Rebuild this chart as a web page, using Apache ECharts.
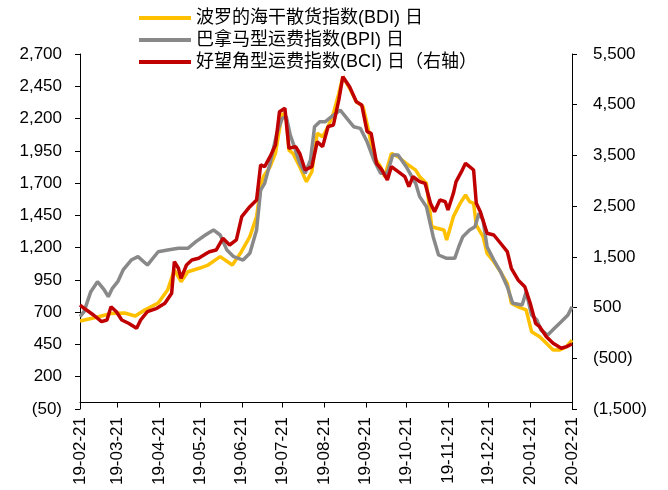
<!DOCTYPE html>
<html>
<head>
<meta charset="utf-8">
<script src="https://cdn.jsdelivr.net/npm/echarts@6/dist/echarts.min.js"></script>
<style>
  html, body { margin: 0; padding: 0; background: #fff; }
  #chart { width: 668px; height: 490px; }
</style>
</head>
<body>
<div id="chart"></div>
<script>
document.addEventListener('DOMContentLoaded', function() {

    const legendNames = ['波罗的海干散货指数(BDI) 日', '巴拿马型运费指数(BPI) 日', '好望角型运费指数(BCI) 日（右轴）'];

    // BDI, left axis
    const bdi = [
        ['2019-02-21', 632], ['2019-03-06', 663], ['2019-03-16', 690], ['2019-03-26', 694], ['2019-04-03', 670],
        ['2019-04-10', 717], ['2019-04-20', 771], ['2019-04-27', 872], ['2019-05-02', 1027], ['2019-05-07', 936],
        ['2019-05-12', 1013], ['2019-05-21', 1042], ['2019-05-27', 1065], ['2019-06-05', 1130], ['2019-06-14', 1065],
        ['2019-06-20', 1156], ['2019-06-27', 1285], ['2019-07-02', 1440], ['2019-07-05', 1672], ['2019-07-07', 1750],
        ['2019-07-12', 1827], ['2019-07-16', 1930], ['2019-07-18', 2059], ['2019-07-21', 2240], ['2019-07-24', 2204],
        ['2019-07-26', 1956], ['2019-07-29', 1930], ['2019-08-03', 1827], ['2019-08-08', 1711], ['2019-08-12', 1788],
        ['2019-08-16', 2086], ['2019-08-20', 2059], ['2019-08-24', 2137], ['2019-08-28', 2240], ['2019-09-01', 2395],
        ['2019-09-04', 2524], ['2019-09-09', 2434], ['2019-09-14', 2330], ['2019-09-19', 2292], ['2019-09-23', 2111],
        ['2019-09-27', 1904], ['2019-10-02', 1827], ['2019-10-05', 1750], ['2019-10-10', 1930], ['2019-10-15', 1904],
        ['2019-10-21', 1853], ['2019-10-28', 1801], ['2019-10-31', 1750], ['2019-11-05', 1698], ['2019-11-09', 1362],
        ['2019-11-13', 1350], ['2019-11-18', 1337], ['2019-11-20', 1259], ['2019-11-25', 1440], ['2019-11-30', 1543],
        ['2019-12-04', 1608], ['2019-12-07', 1556], ['2019-12-10', 1543], ['2019-12-12', 1375], ['2019-12-17', 1285],
        ['2019-12-20', 1156], ['2019-12-25', 1091], ['2019-12-30', 1013], ['2020-01-04', 924], ['2020-01-07', 769],
        ['2020-01-12', 742], ['2020-01-18', 717], ['2020-01-22', 549], ['2020-01-28', 510], ['2020-02-02', 459],
        ['2020-02-07', 407], ['2020-02-12', 407], ['2020-02-17', 433], ['2020-02-21', 484]
    ];

    // BPI, left axis
    const bpi = [
        ['2019-02-21', 665], ['2019-02-24', 704], ['2019-03-01', 859], ['2019-03-06', 936], ['2019-03-11', 872],
        ['2019-03-14', 820], ['2019-03-17', 885], ['2019-03-21', 936], ['2019-03-25', 1027], ['2019-03-31', 1104],
        ['2019-04-05', 1130], ['2019-04-12', 1065], ['2019-04-20', 1168], ['2019-04-27', 1181], ['2019-05-05', 1195],
        ['2019-05-12', 1195], ['2019-05-18', 1246], ['2019-05-25', 1298], ['2019-05-31', 1337], ['2019-06-05', 1298],
        ['2019-06-10', 1181], ['2019-06-15', 1130], ['2019-06-22', 1104], ['2019-06-27', 1156], ['2019-07-02', 1337],
        ['2019-07-05', 1646], ['2019-07-08', 1698], ['2019-07-12', 1853], ['2019-07-17', 2086], ['2019-07-21', 2201],
        ['2019-07-24', 2214], ['2019-07-27', 2072], ['2019-07-30', 1982], ['2019-08-03', 1853], ['2019-08-07', 1776],
        ['2019-08-11', 1879], ['2019-08-14', 2137], ['2019-08-18', 2176], ['2019-08-22', 2176], ['2019-08-25', 2201],
        ['2019-09-02', 2266], ['2019-09-07', 2201], ['2019-09-12', 2137], ['2019-09-17', 2124], ['2019-09-22', 2020],
        ['2019-09-27', 1879], ['2019-10-02', 1776], ['2019-10-07', 1776], ['2019-10-11', 1918], ['2019-10-15', 1918],
        ['2019-10-21', 1827], ['2019-10-28', 1698], ['2019-10-31', 1595], ['2019-11-05', 1517], ['2019-11-10', 1285],
        ['2019-11-14', 1143], ['2019-11-20', 1117], ['2019-11-26', 1117], ['2019-11-29', 1207], ['2019-12-02', 1285],
        ['2019-12-07', 1337], ['2019-12-11', 1362], ['2019-12-14', 1466], ['2019-12-17', 1414], ['2019-12-20', 1207],
        ['2019-12-25', 1104], ['2019-12-30', 1013], ['2020-01-04', 897], ['2020-01-08', 769], ['2020-01-15', 756],
        ['2020-01-18', 859], ['2020-01-22', 678], ['2020-01-26', 639], ['2020-01-29', 562], ['2020-02-03', 523],
        ['2020-02-08', 575], ['2020-02-13', 626], ['2020-02-18', 678], ['2020-02-21', 742]
    ];

    // BCI, right axis
    const bci = [
        ['2019-02-21', 551], ['2019-02-24', 486], ['2019-03-03', 354], ['2019-03-09', 222], ['2019-03-13', 255],
        ['2019-03-16', 517], ['2019-03-20', 419], ['2019-03-24', 255], ['2019-03-29', 190], ['2019-04-04', 91],
        ['2019-04-07', 255], ['2019-04-12', 419], ['2019-04-19', 486], ['2019-04-25', 584], ['2019-04-30', 782],
        ['2019-05-02', 1405], ['2019-05-05', 1275], ['2019-05-07', 1077], ['2019-05-11', 1340], ['2019-05-15', 1438],
        ['2019-05-20', 1472], ['2019-05-26', 1570], ['2019-05-28', 1602], ['2019-06-02', 1635], ['2019-06-07', 1866],
        ['2019-06-12', 1734], ['2019-06-17', 1833], ['2019-06-21', 2292], ['2019-06-27', 2489], ['2019-07-02', 2621],
        ['2019-07-05', 3312], ['2019-07-08', 3278], ['2019-07-12', 3475], ['2019-07-16', 3706], ['2019-07-19', 4363],
        ['2019-07-23', 4430], ['2019-07-26', 3641], ['2019-07-31', 3673], ['2019-08-03', 3542], ['2019-08-07', 3213],
        ['2019-08-12', 3278], ['2019-08-16', 3771], ['2019-08-20', 3673], ['2019-08-24', 4067], ['2019-08-28', 4100],
        ['2019-09-01', 4593], ['2019-09-04', 5053], ['2019-09-09', 4856], ['2019-09-14', 4560], ['2019-09-18', 4495],
        ['2019-09-22', 3968], ['2019-09-25', 3937], ['2019-09-29', 3345], ['2019-10-03', 3213], ['2019-10-07', 3016],
        ['2019-10-10', 3278], ['2019-10-15', 3180], ['2019-10-20', 3081], ['2019-10-23', 2884], ['2019-10-26', 3081],
        ['2019-10-31', 2982], ['2019-11-04', 2950], ['2019-11-08', 2556], ['2019-11-11', 2391], ['2019-11-15', 2621],
        ['2019-11-19', 2588], ['2019-11-21', 2424], ['2019-11-25', 2753], ['2019-11-27', 2982], ['2019-12-01', 3180],
        ['2019-12-04', 3345], ['2019-12-07', 3278], ['2019-12-10', 3213], ['2019-12-12', 2556], ['2019-12-15', 2391],
        ['2019-12-20', 1965], ['2019-12-25', 1931], ['2019-12-30', 1768], ['2020-01-04', 1602], ['2020-01-07', 1275],
        ['2020-01-12', 1044], ['2020-01-17', 912], ['2020-01-21', 584], ['2020-01-25', 190], ['2020-01-28', 123],
        ['2020-02-02', -74], ['2020-02-07', -204], ['2020-02-13', -303], ['2020-02-17', -271], ['2020-02-21', -218]
    ];

    // month ticks, 21st of each month
    const monthTicks = ['2019-02-21', '2019-03-21', '2019-04-21', '2019-05-21', '2019-06-21', '2019-07-21',
        '2019-08-21', '2019-09-21', '2019-10-21', '2019-11-21', '2019-12-21', '2020-01-21', '2020-02-21'];

    const toTime = s => {
        const p = s.split('-').map(Number);
        return Date.UTC(p[0], p[1] - 1, p[2]);
    };
    const tickTimes = monthTicks.map(toTime);
    const toPoints = rows => rows.map(r => [toTime(r[0]), r[1]]);

    const fmtNum = v => {
        const s = Math.abs(v).toLocaleString('en-US');
        return v < 0 ? '(' + s + ')' : s;
    };

    const pad = n => (n < 10 ? '0' : '') + n;
    const fmtDate = v => {
        const d = new Date(v);
        return pad(d.getUTCFullYear() % 100) + '-' + pad(d.getUTCMonth() + 1) + '-' + pad(d.getUTCDate());
    };

    const font = '"Liberation Sans", Arial, "Noto Sans CJK SC", sans-serif';

    const valueAxis = (min, max, interval, position, margin) => ({
        type: 'value',
        position: position,
        min: min,
        max: max,
        interval: interval,
        splitLine: { show: false },
        axisLine: { show: true, lineStyle: { color: '#000', width: 1 } },
        axisTick: { show: true, length: 5, lineStyle: { color: '#000' } },
        axisLabel: {
            color: '#000',
            fontSize: 17,
            fontFamily: font,
            margin: margin,
            formatter: fmtNum
        }
    });

    const line = (name, data, color, yIndex) => ({
        name: name,
        type: 'line',
        yAxisIndex: yIndex,
        data: toPoints(data),
        showSymbol: false,
        symbol: 'none',
        lineStyle: { color: color, width: 3.5 },
        itemStyle: { color: color },
        emphasis: { disabled: true }
    });

    const chart = echarts.init(document.getElementById('chart'));

    chart.setOption({
        animation: false,
        legend: {
            orient: 'vertical',
            left: 134,
            top: 4,
            itemWidth: 52,
            itemHeight: 4,
            itemGap: 4,
            icon: 'rect',
            textStyle: { color: '#000', fontSize: 18, fontFamily: font, lineHeight: 18 },
            data: legendNames
        },
        grid: {
            left: 80,
            right: 96,
            top: 54,
            bottom: 81
        },
        xAxis: {
            type: 'value',
            min: tickTimes[0],
            max: tickTimes[tickTimes.length - 1],
            splitLine: { show: false },
            axisLine: { lineStyle: { color: '#000', width: 1 } },
            axisTick: { show: true, length: 5, customValues: tickTimes, lineStyle: { color: '#000' } },
            axisLabel: {
                customValues: tickTimes,
                rotate: 90,
                color: '#000',
                fontSize: 17,
                fontFamily: font,
                margin: 8,
                formatter: fmtDate
            }
        },
        yAxis: [
            valueAxis(-50, 2700, 250, 'left', 18),
            valueAxis(-1500, 5500, 1000, 'right', 21)
        ],
        series: [
            line(legendNames[0], bdi, '#FFC000', 0),
            line(legendNames[1], bpi, '#898989', 0),
            line(legendNames[2], bci, '#C00000', 1)
        ]
    });

});
</script>
</body>
</html>
